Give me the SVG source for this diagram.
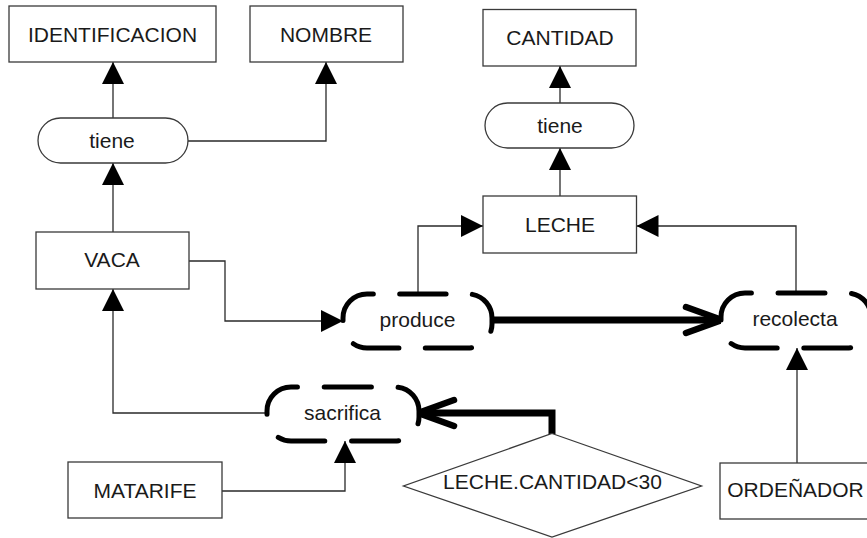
<svg xmlns="http://www.w3.org/2000/svg" width="867" height="538" viewBox="0 0 867 538">
<style>
.box{fill:#fff;stroke:#3a3a3a;stroke-width:1.3}
.dash{fill:#fff;stroke:#000;stroke-width:5;stroke-linecap:round;stroke-dasharray:44 25;stroke-dashoffset:38}
.t{font-family:"Liberation Sans",Arial,sans-serif;font-size:21px;fill:#1a1a1a;text-anchor:middle}
.c{fill:none;stroke:#2a2a2a;stroke-width:1.3}
.k{fill:none;stroke:#000;stroke-width:7}
</style>
<defs>
<marker id="tri" markerUnits="userSpaceOnUse" markerWidth="22" markerHeight="22" refX="22" refY="11" orient="auto" overflow="visible">
<path d="M0,0 L22,11 L0,22 z" fill="#000"/>
</marker>
<marker id="open" markerUnits="userSpaceOnUse" markerWidth="50" markerHeight="40" refX="0" refY="0" orient="auto" overflow="visible">
<path d="M-36,-13 L0,0 L-36,13" fill="none" stroke="#000" stroke-width="6.5" stroke-linecap="round" stroke-linejoin="round"/>
</marker>
</defs>
<g id="connectors">
<path class="c" d="M113,118 V62" marker-end="url(#tri)"/>
<path class="c" d="M188,141 H326 V62" marker-end="url(#tri)"/>
<path class="c" d="M113,232 V163" marker-end="url(#tri)"/>
<path class="c" d="M560,103 V66" marker-end="url(#tri)"/>
<path class="c" d="M560,196 V148" marker-end="url(#tri)"/>
<path class="c" d="M418,294 V226 H483" marker-end="url(#tri)"/>
<path class="c" d="M796,293 V226 H636.5" marker-end="url(#tri)"/>
<path class="c" d="M189,261 H225 V321 H343" marker-end="url(#tri)"/>
<path class="c" d="M267,413 H113 V289" marker-end="url(#tri)"/>
<path class="c" d="M222,491 H345 V441" marker-end="url(#tri)"/>
<path class="c" d="M797,463 V348" marker-end="url(#tri)"/>
<path class="k" d="M491,320 H722" marker-end="url(#open)"/>
<path class="k" d="M552,434 V413 H418" marker-end="url(#open)"/>
</g>
<g id="identificacion"><rect class="box" x="9" y="6" width="207" height="56"/><text class="t" x="112.5" y="41.5">IDENTIFICACION</text></g>
<g id="nombre"><rect class="box" x="250" y="6" width="153" height="56"/><text class="t" x="326" y="41.5">NOMBRE</text></g>
<g id="tiene1"><rect class="box" x="38" y="118" width="150" height="45" rx="22.5"/><text class="t" x="112" y="148">tiene</text></g>
<g id="vaca"><rect class="box" x="36" y="232" width="153" height="57"/><text class="t" x="112" y="267">VACA</text></g>
<g id="cantidad"><rect class="box" x="483" y="9.5" width="153" height="56.5"/><text class="t" x="560" y="44.5">CANTIDAD</text></g>
<g id="tiene2"><rect class="box" x="485" y="103" width="149" height="45" rx="22.5"/><text class="t" x="560" y="133">tiene</text></g>
<g id="leche"><rect class="box" x="483" y="196" width="153.5" height="57"/><text class="t" x="560" y="232">LECHE</text></g>
<g id="produce"><rect class="dash" x="343" y="294" width="149" height="54" rx="24" pathLength="345"/><text class="t" x="417.5" y="327">produce</text></g>
<g id="recolecta"><rect class="dash" x="721" y="293" width="150" height="55" rx="24" pathLength="345"/><text class="t" x="795" y="326">recolecta</text></g>
<g id="sacrifica"><rect class="dash" x="267" y="387" width="152" height="54" rx="24" pathLength="345"/><text class="t" x="342.5" y="420">sacrifica</text></g>
<g id="matarife"><rect class="box" x="68" y="462" width="154" height="56"/><text class="t" x="145" y="498">MATARIFE</text></g>
<g id="condicion"><polygon class="box" points="552,433.5 701.5,486 552,537 403.5,486"/><text class="t" x="552.5" y="488.5">LECHE.CANTIDAD&lt;30</text></g>
<g id="ordenador"><rect class="box" x="720" y="463" width="152" height="56"/><text class="t" x="795.5" y="497">ORDEÑADOR</text></g>
</svg>
